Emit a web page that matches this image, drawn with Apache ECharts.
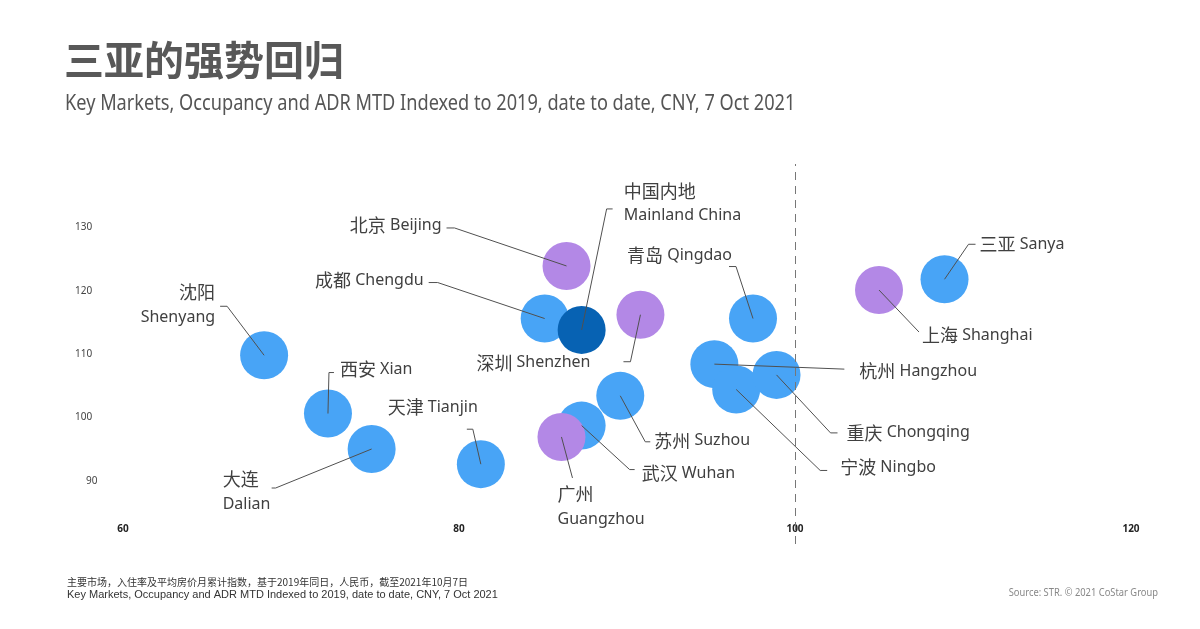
<!DOCTYPE html>
<html>
<head>
<meta charset="utf-8">
<script src="https://cdn.jsdelivr.net/npm/echarts@6/dist/echarts.min.js"></script>
<style>html,body{margin:0;padding:0;background:#fff}#c{width:1200px;height:629px}</style>
</head>
<body>
<div id="c"></div>
<script>
// ---------------- data ----------------
const cityCn = ['三亚','上海','青岛','杭州','宁波','重庆','北京','成都','中国内地','深圳','苏州','武汉','广州','沈阳','西安','大连','天津'];
const cityEn = ['Sanya','Shanghai','Qingdao','Hangzhou','Ningbo','Chongqing','Beijing','Chengdu','Mainland China','Shenzhen','Suzhou','Wuhan','Guangzhou','Shenyang','Xian','Dalian','Tianjin'];
const indexX = [108.9,105.0,97.5,95.2,96.5,98.9,86.4,85.1,87.3,90.8,89.6,87.3,86.1,68.4,72.2,74.8,81.3];
const indexY = [121.8,120.1,115.6,108.4,104.4,106.7,123.9,115.6,113.8,116.2,103.4,98.7,96.9,109.8,100.6,95.0,92.6];
const cityGroup = ['market','tier1','market','market','market','market','tier1','market','national','tier1','market','market','tier1','market','market','market','market'];
const xTicks = [60, 80, 100, 120];
const yTicks = [90, 100, 110, 120, 130];
const referenceX = 100;

// ---------------- presentation ----------------
const groupColor = { market: '#48A4F6', tier1: '#B388E6', national: '#0762B3' };
// label callout layout: pixel offsets from bubble centre
const labelLayout = {
  '三亚':   {line:[[24,-35],[31,-35]], t:[35,-35], align:'left'},
  '上海':   {line:[[40,42]], t:[43,45], align:'left'},
  '青岛':   {line:[[-17,-52],[-24,-52]], t:[-126,-63], align:'left'},
  '杭州':   {line:[[130,5]], t:[145,7], align:'left'},
  '宁波':   {line:[[84,81],[91,81]], t:[104,78], align:'left'},
  '重庆':   {line:[[54,58],[61,58]], t:[70,58], align:'left'},
  '北京':   {line:[[-112,-38],[-120,-38]], t:[-125,-41], align:'right'},
  '成都':   {line:[[-107,-36],[-116,-36]], t:[-121,-38], align:'right'},
  '中国内地': {line:[[25,-121],[31,-121]], t:[42,-139], align:'left', stack:true},
  '深圳':   {line:[[-10,47],[-17,47]], t:[-50,48], align:'right'},
  '苏州':   {line:[[25,46],[30,46]], t:[34,45], align:'left'},
  '武汉':   {line:[[48,44],[53,44]], t:[60,48], align:'left'},
  '广州':   {line:[[11,41]], t:[-4,57], align:'left', stack:true},
  '沈阳':   {line:[[-37,-49],[-44,-49]], t:[-49,-63], align:'right', stack:true},
  '西安':   {line:[[1,-41],[6,-41]], t:[12,-44], align:'left'},
  '大连':   {line:[[-96,39],[-100,39]], t:[-149,30], align:'left', stack:true},
  '天津':   {line:[[-8,-35],[-14,-35]], t:[-3,-57], align:'right'}
};
const LABEL_FONT = '"Noto Sans","Noto Sans CJK SC",sans-serif';
const CJK_FONT = '"Noto Sans CJK SC",sans-serif';
const TEXT_COLOR = '#404040';

function pointsOf(group) {
  const out = [];
  cityCn.forEach((n, i) => { if (cityGroup[i] === group) out.push({ name: n, value: [indexX[i], indexY[i]] }); });
  return out;
}

const bubbleBase = {
  type: 'scatter', symbolSize: 48, silent: true,
  emphasis: { disabled: true }
};

const chart = echarts.init(document.getElementById('c'), null, { renderer: 'canvas' });
chart.setOption({
  animation: false,
  grid: { left: 123, right: 69, top: 164, bottom: 85 },
  xAxis: {
    type: 'value', min: xTicks[0], max: xTicks[xTicks.length - 1], interval: xTicks[1] - xTicks[0],
    axisLine: { show: false }, axisTick: { show: false }, splitLine: { show: false },
    axisLabel: { margin: -20, fontSize: 10, fontWeight: 'bold', color: '#222', fontFamily: '"Noto Sans",sans-serif' }
  },
  yAxis: {
    type: 'value', min: 80, max: 140, interval: yTicks[1] - yTicks[0],
    axisLine: { show: false }, axisTick: { show: false }, splitLine: { show: false },
    axisLabel: {
      margin: 48, align: 'left', fontSize: 10, color: '#444', fontFamily: '"Noto Sans",sans-serif',
      formatter: v => (yTicks.indexOf(v) < 0 ? '' : (v === yTicks[0] ? '{p|' + v + '}' : String(v))),
      rich: { p: { padding: [0, 0, 0, 11], fontSize: 10, color: '#444', fontFamily: '"Noto Sans",sans-serif' } }
    }
  },
  series: [
    Object.assign({}, bubbleBase, {
      name: 'market', data: pointsOf('market'), itemStyle: { color: groupColor.market, opacity: 1 },
      markLine: {
        silent: true, symbol: 'none', label: { show: false },
        lineStyle: { type: [8, 6], color: '#777', width: 1 },
        data: [{ xAxis: referenceX }]
      }
    }),
    Object.assign({}, bubbleBase, { name: 'tier1', data: pointsOf('tier1'), itemStyle: { color: groupColor.tier1, opacity: 1 } }),
    Object.assign({}, bubbleBase, { name: 'national', data: pointsOf('national'), itemStyle: { color: groupColor.national, opacity: 1 } }),
    {
      type: 'custom', name: 'labels', silent: true, z: 10, clip: false,
      coordinateSystem: 'cartesian2d', encode: { x: 0, y: 1 },
      data: cityCn.map((n, i) => [indexX[i], indexY[i]]),
      renderItem: function (params, api) {
        const i = params.dataIndex;
        const L = labelLayout[cityCn[i]];
        const c = api.coord([api.value(0), api.value(1)]);
        const pts = [c].concat(L.line.map(p => [c[0] + p[0], c[1] + p[1]]));
        const children = [{
          type: 'polyline', shape: { points: pts },
          style: { stroke: '#505050', lineWidth: 1, fill: null }
        }];
        const rich = {
          c: { fontSize: 18, fontFamily: CJK_FONT, fill: TEXT_COLOR, color: TEXT_COLOR },
          e: { fontSize: 16, fontFamily: LABEL_FONT, fill: TEXT_COLOR, color: TEXT_COLOR }
        };
        if (L.stack) {
          children.push({ type: 'text', x: c[0] + L.t[0], y: c[1] + L.t[1],
            style: { text: cityCn[i], fontSize: 18, fontFamily: CJK_FONT, fill: TEXT_COLOR, align: L.align, verticalAlign: 'middle' } });
          children.push({ type: 'text', x: c[0] + L.t[0], y: c[1] + L.t[1] + 25,
            style: { text: cityEn[i], fontSize: 16, fontFamily: LABEL_FONT, fill: TEXT_COLOR, align: L.align, verticalAlign: 'middle' } });
        } else {
          children.push({ type: 'text', x: c[0] + L.t[0], y: c[1] + L.t[1],
            style: { text: '{c|' + cityCn[i] + '} {e|' + cityEn[i] + '}', rich: rich, fontSize: 16, fontFamily: LABEL_FONT, fill: TEXT_COLOR, align: L.align, verticalAlign: 'middle' } });
        }
        return { type: 'group', children: children };
      }
    }
  ],
  graphic: [
    { type: 'text', x: 64, y: 40, silent: true,
      style: { text: '三亚的强势回归', fontSize: 40, fontWeight: 'bold', fontFamily: CJK_FONT, fill: '#585858' } },
    { type: 'text', x: 65, y: 104, scaleX: 0.826, silent: true,
      style: { text: 'Key Markets, Occupancy and ADR MTD Indexed to 2019, date to date, CNY, 7 Oct 2021', fontSize: 22,
        fontFamily: '"Noto Sans",sans-serif', fill: '#555', align: 'left', verticalAlign: 'middle' } },
    { type: 'text', x: 67, y: 582, silent: true,
      style: { text: '主要市场，入住率及平均房价月累计指数，基于2019年同日，人民币，截至2021年10月7日', fontSize: 10, fontFamily: CJK_FONT, fill: '#333', verticalAlign: 'middle' } },
    { type: 'text', x: 67, y: 595, silent: true,
      style: { text: 'Key Markets, Occupancy and ADR MTD Indexed to 2019, date to date, CNY, 7 Oct 2021', fontSize: 11, fontFamily: '"Liberation Sans",Arial,sans-serif', fill: '#333', verticalAlign: 'middle' } },
    { type: 'text', x: 1158, y: 593, scaleX: 0.85, silent: true,
      style: { text: 'Source: STR. © 2021 CoStar Group', fontSize: 11, fontFamily: '"Noto Sans",sans-serif', fill: '#888', align: 'right', verticalAlign: 'middle' } }
  ]
});
</script>
</body>
</html>
